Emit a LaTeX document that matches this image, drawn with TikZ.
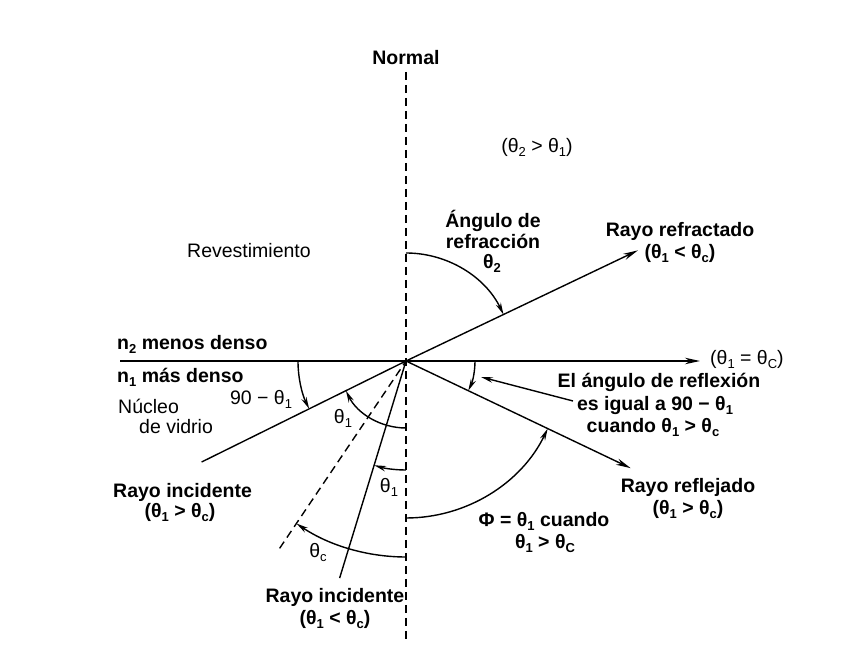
\documentclass[tikz,border=0pt]{standalone}
\usepackage{fontspec}
\setmainfont{Liberation Sans}
\usetikzlibrary{arrows.meta}
\newcommand{\sbs}[1]{\raisebox{-0.3ex}{\fontsize{13}{13}\selectfont #1}}
\begin{document}
\begin{tikzpicture}[x=1pt,y=1pt,
  ln/.style={line width=1.4pt},
  dashln/.style={line width=1.4pt, dash pattern=on 8pt off 5pt},
  rayarr/.style={ln, -{Stealth[length=15pt,width=6.5pt]}},
  arcarr/.style={ln, -{Stealth[length=12pt,width=5.5pt]}},
  lab/.style={font=\fontsize{19.5}{22}\selectfont, inner sep=0pt, anchor=base},
  blab/.style={font=\fontsize{19.5}{22}\selectfont\bfseries, inner sep=0pt, anchor=base}]
\useasboundingbox[fill=white] (0,0) rectangle (855,661);

% key points
\coordinate (O) at (406,300);
\coordinate (NT) at (406,589);
\coordinate (NB) at (406,21);
\coordinate (HL) at (120,300);
\coordinate (HR) at (700,300);
\coordinate (RF) at ([shift={(25.5:257)}]O);
\coordinate (RL) at ([shift={(-25.5:249)}]O);
\coordinate (IA) at ([shift={(206.3:228)}]O);
\coordinate (CR) at ([shift={(236:226)}]O);
\coordinate (IB) at ([shift={(253:227)}]O);
\coordinate (LS) at (573,260);
\coordinate (LE) at (481,284);

% normal and interface
\draw[dashln] (NT) -- (NB);
\draw[ln] (HL) -- (O);
\draw[rayarr] (O) -- (HR);

% rays
\draw[rayarr] (O) -- (RF);
\draw[rayarr] (O) -- (RL);
\draw[ln] (IA) -- (O);
\draw[ln] (IB) -- (O);
\draw[dashln] (CR) -- (O);

% angle arcs
\draw[arcarr] ([shift={(180:108)}]O) arc[start angle=180, end angle=206.3, radius=108];
\draw[arcarr] ([shift={(270:67)}]O) arc[start angle=270, end angle=206.3, radius=67];
\draw[arcarr] ([shift={(270:109)}]O) arc[start angle=270, end angle=253, radius=109];
\draw[arcarr] ([shift={(270:196)}]O) arc[start angle=270, end angle=236, radius=196];
\draw[arcarr] ([shift={(270:157)}]O) arc[start angle=270, end angle=334.5, radius=157];
\draw[arcarr] ([shift={(90:108)}]O) arc[start angle=90, end angle=25.5, radius=108];
\draw[arcarr] ([shift={(0:69)}]O) arc[start angle=0, end angle=-25.5, radius=69];
\draw[arcarr] (LS) -- (LE);

% labels
\node[blab] (normal) at (406,596) {Normal};
\node[lab] (cond2) at (537,508) {(θ\sbs{2} > θ\sbs{1})};
\node[lab] (rev) at (249,403) {Revestimiento};
\node[blab] (angA) at (493,433) {Ángulo de};
\node[blab] (angB) at (493,412) {refracción};
\node[blab] (angC) at (492,392) {θ\sbs{2}};
\node[blab] (rfA) at (680,424) {Rayo refractado};
\node[blab] (rfB) at (680,402) {(θ\sbs{1} < θ\sbs{c})};
\node[blab, anchor=base west] (n2) at (117,311) {n\sbs{2} menos denso};
\node[blab, anchor=base west] (n1) at (117,278) {n\sbs{1} más denso};
\node[lab, anchor=base west] (nucA) at (118,247) {Núcleo};
\node[lab, anchor=base west] (nucB) at (139,227) {de vidrio};
\node[lab] (ninety) at (261,256) {90 − θ\sbs{1}};
\node[lab] (thA) at (343,237) {θ\sbs{1}};
\node[lab] (thB) at (389,168) {θ\sbs{1}};
\node[lab] (thC) at (318,103) {θ\sbs{c}};
\node[blab, anchor=base west] (inA) at (113,163) {Rayo incidente};
\node[blab] (inB) at (180,143) {(θ\sbs{1} > θ\sbs{c})};
\node[blab] (ibA) at (335,58) {Rayo incidente};
\node[blab] (ibB) at (335,36) {(θ\sbs{1} < θ\sbs{c})};
\node[lab, anchor=base west] (crit) at (710,296) {(θ\sbs{1} = θ\sbs{C})};
\node[blab] (elA) at (659,273) {El ángulo de reflexión};
\node[blab] (elB) at (655,250) {es igual a 90 − θ\sbs{1}};
\node[blab] (elC) at (653,228) {cuando θ\sbs{1} > θ\sbs{c}};
\node[blab] (rlA) at (688,168) {Rayo reflejado};
\node[blab] (rlB) at (688,146) {(θ\sbs{1} > θ\sbs{c})};
\node[blab] (phA) at (544,134) {Φ = θ\sbs{1} cuando};
\node[blab] (phB) at (545,112) {θ\sbs{1} > θ\sbs{C}};
\end{tikzpicture}
\end{document}
